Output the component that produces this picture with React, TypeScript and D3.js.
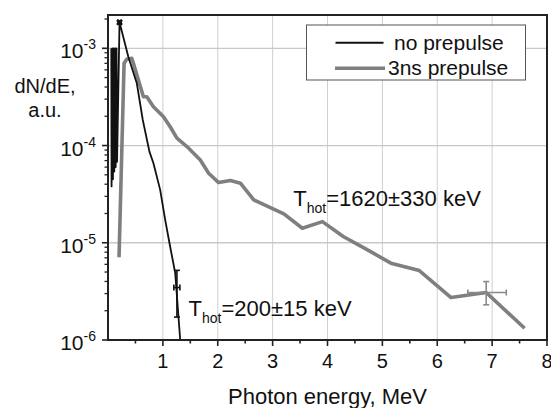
import React from 'react';
import * as d3 from 'd3';

// ---- data ----
const xMajorTicks = [1, 2, 3, 4, 5, 6, 7, 8];
const xMinorTicks = [0.5, 1.5, 2.5, 3.5, 4.5, 5.5, 6.5, 7.5];
const yDecadeExponents = [-6, -5, -4, -3];
const xTitle = 'Photon energy, MeV';
const yTitleLines = ['dN/dE,', 'a.u.'];
const seriesNames = ['no prepulse', '3ns prepulse'];

const noPrepulseEnergy = [0.06, 0.065, 0.08, 0.09, 0.105, 0.115, 0.13, 0.14, 0.155, 0.165, 0.21, 0.37, 0.525, 0.634, 0.755, 0.828, 0.951, 1.042, 1.133, 1.225, 1.316];
const noPrepulseDnde = [1.0e-3, 3.8e-5, 1.0e-3, 4.5e-5, 1.0e-3, 5.4e-5, 1.0e-3, 6.0e-5, 1.0e-3, 6.8e-5, 1.85e-3, 8.2e-4, 4.37e-4, 1.83e-4, 8.65e-5, 6.58e-5, 3.5e-5, 1.72e-5, 9.1e-6, 4.88e-6, 1.0e-6];

const prepulseEnergy = [0.201, 0.293, 0.342, 0.433, 0.463, 0.645, 0.707, 0.828, 1.011, 1.133, 1.256, 1.439, 1.682, 1.834, 2.016, 2.23, 2.413, 2.656, 3.205, 3.541, 3.907, 4.287, 4.729, 5.155, 5.673, 6.252, 6.892, 7.592];
const prepulseDnde = [7.1e-6, 7.0e-4, 7.7e-4, 7.9e-4, 7.0e-4, 3.18e-4, 3.18e-4, 2.51e-4, 1.98e-4, 1.56e-4, 1.19e-4, 9.75e-5, 7.1e-5, 5.19e-5, 4.16e-5, 4.36e-5, 4.1e-5, 2.76e-5, 1.98e-5, 1.41e-5, 1.65e-5, 1.16e-5, 8.45e-6, 6.17e-6, 5.18e-6, 2.73e-6, 3.08e-6, 1.32e-6];

// error bars: [energy, dnde, dndeLow, dndeHigh, energyLow, energyHigh]
const noPrepulseErrors = [
  [0.21, 1.85e-3, 1.78e-3, 1.92e-3, 0.18, 0.24],
  [1.256, 3.46e-6, 1.72e-6, 5.2e-6, 1.2, 1.31],
];
const prepulseErrors = [[6.892, 3.08e-6, 2.3e-6, 3.99e-6, 6.557, 7.258]];

const hotLabels = [
  { e: 3.377, n: 2.39e-5, main: 'T', sub: 'hot', rest: '=1620±330 keV' },
  { e: 1.468, n: 1.75e-6, main: 'T', sub: 'hot', rest: '=200±15 keV' },
];

const FONT = "'Liberation Sans', Arial, Helvetica, sans-serif";
const BLACK = '#111';
const GRAY = '#7f7f7f';

export default function App() {
  const W = 551, H = 408;
  const x = d3.scaleLinear().domain([0, 8]).range([108, 547]);
  const y = d3.scaleLog().domain([1e-6, 2.2e-3]).range([340, 15]);
  const [x0, x1] = x.range();
  const [yb, yt] = y.range();

  const line = d3.line<[number, number]>().x(d => x(d[0])).y(d => y(d[1]));
  const blackPts = noPrepulseEnergy.map((e, i) => [e, noPrepulseDnde[i]] as [number, number]);
  const grayPts = prepulseEnergy.map((e, i) => [e, prepulseDnde[i]] as [number, number]);

  const yMinor: number[] = [];
  yDecadeExponents.forEach(p => {
    for (let k = 2; k <= 9; k++) {
      const v = k * Math.pow(10, p);
      if (v <= y.domain()[1]) yMinor.push(v);
    }
  });

  const errBar = (eb: number[], color: string, sw: number, key: string) => {
    const [e, , lo, hi, elo, ehi] = eb;
    const cx = x(e), cy = y(eb[1]);
    const cap = 3;
    return (
      <g key={key} stroke={color} strokeWidth={sw} fill="none">
        <line x1={cx} x2={cx} y1={y(lo)} y2={y(hi)} />
        <line x1={cx - cap} x2={cx + cap} y1={y(lo)} y2={y(lo)} />
        <line x1={cx - cap} x2={cx + cap} y1={y(hi)} y2={y(hi)} />
        <line x1={x(elo)} x2={x(ehi)} y1={cy} y2={cy} />
        <line x1={x(elo)} x2={x(elo)} y1={cy - cap} y2={cy + cap} />
        <line x1={x(ehi)} x2={x(ehi)} y1={cy - cap} y2={cy + cap} />
      </g>
    );
  };

  return (
    <svg width={W} height={H} style={{ position: 'absolute', left: 0, top: 0, background: '#fff' }} fontFamily={FONT}>
      <rect x={0} y={0} width={W} height={H} fill="#fff" />
      {/* grid */}
      {xMajorTicks.filter(t => t < 8).map(t => (
        <line key={'gx' + t} x1={x(t)} x2={x(t)} y1={yt} y2={yb} stroke="#cfcfcf" strokeWidth={1} />
      ))}
      {yDecadeExponents.filter(p => p > -6).map(p => (
        <line key={'gy' + p} x1={x0} x2={x1} y1={y(Math.pow(10, p))} y2={y(Math.pow(10, p))} stroke="#c8c8c8" strokeWidth={1.3} />
      ))}

      {/* data */}
      <path d={line(grayPts) || ''} fill="none" stroke={GRAY} strokeWidth={3.6} strokeLinejoin="round" />
      <path d={line(blackPts) || ''} fill="none" stroke={BLACK} strokeWidth={1.8} strokeLinejoin="round" />
      {prepulseErrors.map((eb, i) => errBar(eb, '#8a8a8a', 1.6, 'pe' + i))}
      {noPrepulseErrors.map((eb, i) => errBar(eb, BLACK, 1.6, 'ne' + i))}

      {/* frame */}
      <rect x={x0} y={yt} width={x1 - x0} height={yb - yt} fill="none" stroke="#222" strokeWidth={2} />

      {/* x ticks */}
      {xMajorTicks.map(t => (
        <g key={'xt' + t}>
          <line x1={x(t)} x2={x(t)} y1={yb} y2={yb + 6} stroke="#222" strokeWidth={1.6} />
          <text x={x(t)} y={368} fontSize={20} textAnchor="middle" fill="#111">{t}</text>
        </g>
      ))}
      {xMinorTicks.map(t => (
        <line key={'xm' + t} x1={x(t)} x2={x(t)} y1={yb} y2={yb + 3.5} stroke="#222" strokeWidth={1.6} />
      ))}

      {/* y ticks */}
      {yDecadeExponents.map(p => {
        const v = Math.pow(10, p);
        return (
          <g key={'yt' + p}>
            <line x1={x0 - 6} x2={x0} y1={y(v)} y2={y(v)} stroke="#222" strokeWidth={1.6} />
            <text x={96} y={y(v) + 10} fontSize={21} textAnchor="end" fill="#111">
              10<tspan fontSize={14} dy={-9}>{String(p)}</tspan>
            </text>
          </g>
        );
      })}
      {yMinor.map((v, i) => (
        <line key={'ym' + i} x1={x0 - 3.5} x2={x0} y1={y(v)} y2={y(v)} stroke="#222" strokeWidth={1.3} />
      ))}

      {/* axis titles */}
      <text x={(x0 + x1) / 2} y={404} fontSize={22} textAnchor="middle" fill="#111">{xTitle}</text>
      <text x={45} y={93} fontSize={20} textAnchor="middle" fill="#111">{yTitleLines[0]}</text>
      <text x={45} y={116.5} fontSize={20} textAnchor="middle" fill="#111">{yTitleLines[1]}</text>

      {/* annotations */}
      {hotLabels.map((h, i) => (
        <text key={'hl' + i} x={x(h.e)} y={y(h.n)} fontSize={22} fill="#111">
          {h.main}
          <tspan fontSize={14} dy={7}>{h.sub}</tspan>
          <tspan dy={-7}>{h.rest}</tspan>
        </text>
      ))}

      {/* legend */}
      <g>
        <rect x={306.5} y={25} width={219} height={55} fill="#fff" stroke="#555" strokeWidth={1} />
        <line x1={335.5} x2={383.5} y1={42.7} y2={42.7} stroke={BLACK} strokeWidth={2} />
        <text x={394} y={49.5} fontSize={21} fill="#111">{seriesNames[0]}</text>
        <line x1={335} x2={385} y1={68.3} y2={68.3} stroke={GRAY} strokeWidth={3.6} />
        <text x={388} y={75} fontSize={21} fill="#111">{seriesNames[1]}</text>
      </g>
    </svg>
  );
}
